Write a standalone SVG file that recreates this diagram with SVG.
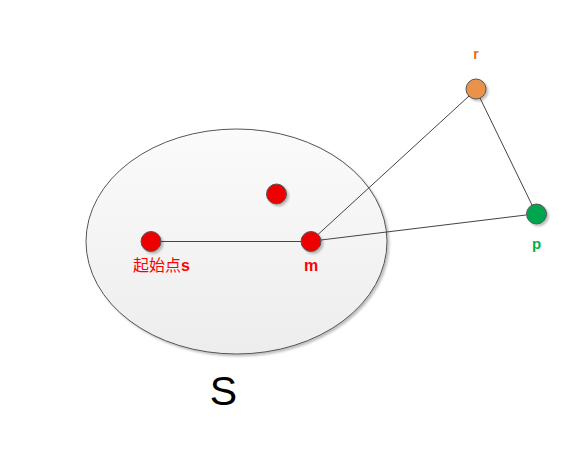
<svg xmlns="http://www.w3.org/2000/svg" width="576" height="454" viewBox="0 0 576 454">
<defs>
<linearGradient id="eg" x1="0" y1="0" x2="0" y2="1">
<stop offset="0" stop-color="#fbfbfb"/>
<stop offset="1" stop-color="#ededed"/>
</linearGradient>
<filter id="sh" x="-30%" y="-30%" width="170%" height="170%">
<feDropShadow dx="2" dy="2" stdDeviation="1.2" flood-color="#000" flood-opacity="0.25"/>
</filter>
<style>
.lbl{font-family:"Liberation Sans","Noto Sans CJK SC",sans-serif;font-weight:bold;text-anchor:middle}
.dot{stroke:#555;stroke-width:1;filter:url(#sh)}
.ln{stroke:#444;stroke-width:1;fill:none}
</style>
</defs>
<rect width="576" height="454" fill="#fff"/>
<g id="set">
<ellipse cx="236.5" cy="241.5" rx="150.5" ry="112.5" fill="url(#eg)" stroke="#555" stroke-width="1" filter="url(#sh)"/>
</g>
<g id="connectors">
<line class="ln" x1="161" y1="241.5" x2="301" y2="241.5"/>
<line class="ln" x1="318" y1="234.5" x2="469" y2="96"/>
<line class="ln" x1="321" y1="240" x2="526" y2="215"/>
<line class="ln" x1="480" y1="98" x2="532" y2="205"/>
</g>
<g id="node-s">
<circle class="dot" cx="151" cy="241.5" r="10" fill="#ee0000"/>
<text class="lbl" x="161.5" y="271" font-size="16" fill="#ff0000"><tspan font-weight="normal" font-family="Noto Sans CJK SC, sans-serif">起始点</tspan>s</text>
</g>
<g id="node-m">
<circle class="dot" cx="311" cy="241.5" r="10" fill="#ee0000"/>
<text class="lbl" x="311" y="271" font-size="16" fill="#ff0000">m</text>
</g>
<g id="node-x">
<circle class="dot" cx="276.5" cy="194" r="10" fill="#ee0000"/>
</g>
<g id="node-r">
<circle class="dot" cx="476" cy="89" r="10" fill="#e8934a"/>
<text class="lbl" x="476" y="59" font-size="14" fill="#e07020">r</text>
</g>
<g id="node-p">
<circle class="dot" cx="536.5" cy="214" r="10" fill="#00a650"/>
<text class="lbl" x="536.5" y="249" font-size="15" fill="#00b050">p</text>
</g>
<g id="label-S">
<text x="223.5" y="405" font-family="Liberation Sans, sans-serif" font-size="41" text-anchor="middle" fill="#000">S</text>
</g>
</svg>
